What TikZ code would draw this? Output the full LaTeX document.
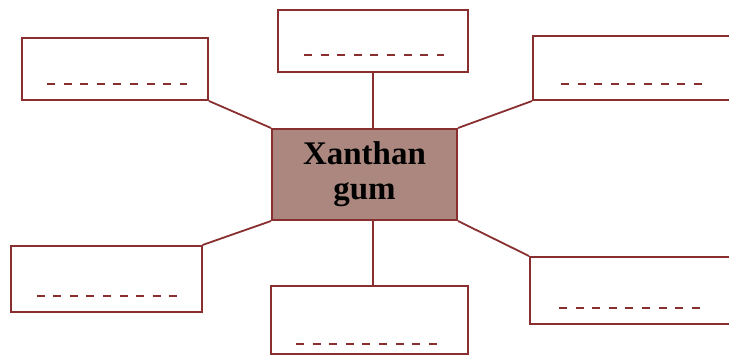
\documentclass[tikz,border=0pt]{standalone}
\usepackage{fontspec}
\setmainfont{Liberation Serif}
\definecolor{edge}{HTML}{8A2F2F}
\definecolor{core}{HTML}{AB877F}
\begin{document}
\begin{tikzpicture}[x=1pt,y=-1pt,
  blank/.style={draw=edge,line width=2pt,fill=white,inner sep=0pt},
  link/.style={draw=edge,line width=1.8pt},
  fillin/.style={draw=edge,line width=2.6pt,dash pattern=on 8pt off 8.6pt}]
\useasboundingbox (0,0) rectangle (729,360);
\clip (0,0) rectangle (729,360);
\node[blank,minimum width=186pt,minimum height=62pt] (tl) at (115,69) {};
\node[blank,minimum width=190pt,minimum height=62pt] (tc) at (373,41) {};
\node[blank,minimum width=210pt,minimum height=64pt] (tr) at (638,68) {};
\node[blank,minimum width=191pt,minimum height=66pt] (bl) at (106,279) {};
\node[blank,minimum width=197pt,minimum height=68pt] (bc) at (369.5,320) {};
\node[blank,minimum width=210pt,minimum height=67pt] (br) at (635,290.5) {};
\node[draw=edge,line width=2pt,fill=core,minimum width=185pt,minimum height=91pt,
  align=center,font=\bfseries\fontsize{33}{35}\selectfont,inner sep=0pt] (c) at (364.5,174.5) {Xanthan\\gum};
\draw[link] (tl.south east) -- (c.north west);
\draw[link] (tc.south) -- (tc.south |- c.north);
\draw[link] (tr.south west) -- (c.north east);
\draw[link] (bl.north east) -- (c.south west);
\draw[link] (bc.north -| tc.south) -- (tc.south |- c.south);
\draw[link] (br.north west) -- (c.south east);
\draw[fillin] ([xshift=26pt,yshift=17pt]tl.south west) -- ++(140,0);
\draw[fillin] ([xshift=27pt,yshift=18pt]tc.south west) -- ++(140,0);
\draw[fillin] ([xshift=29pt,yshift=17pt]tr.south west) -- ++(148,0);
\draw[fillin] ([xshift=27pt,yshift=17pt]bl.south west) -- ++(140,0);
\draw[fillin] ([xshift=26pt,yshift=11pt]bc.south west) -- ++(148,0);
\draw[fillin] ([xshift=30pt,yshift=17pt]br.south west) -- ++(148,0);
\end{tikzpicture}
\end{document}
